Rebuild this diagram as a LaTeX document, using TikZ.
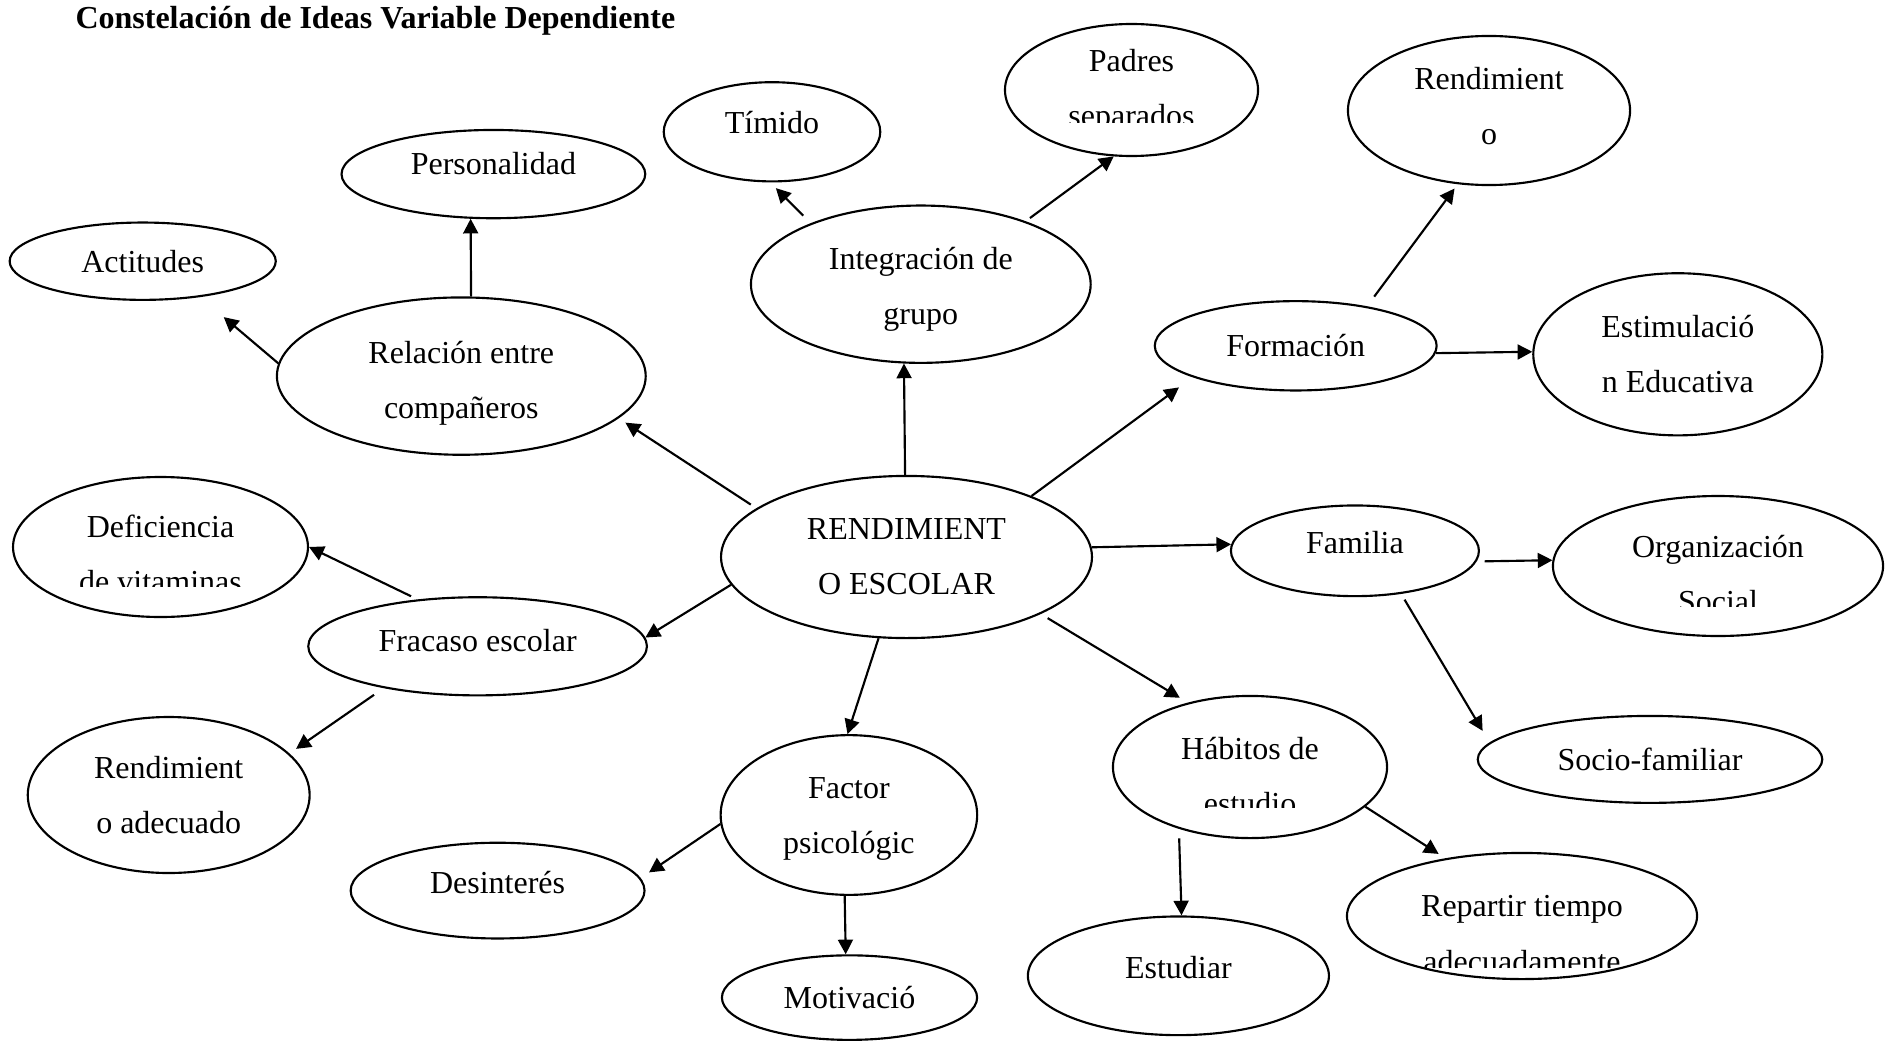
\documentclass[tikz,border=0pt]{standalone}
\usepackage{fontspec}
\setmainfont{Liberation Serif}
\usetikzlibrary{shapes.geometric,arrows.meta}

\begin{document}
\begin{tikzpicture}[x=0.375pt,y=-0.375pt,
    bub/.style={ellipse,draw,line width=0.8pt,inner sep=0pt,align=center,
      font=\fontsize{12pt}{20.7pt}\selectfont},
    txt/.style={inner sep=0pt,align=center,font=\fontsize{12pt}{20.7pt}\selectfont},
    arr/.style={-{Triangle[length=5.5pt,width=5.6pt]},line width=0.8pt}]
\useasboundingbox (0,0) rectangle (1896,1056);

\node[anchor=west,inner sep=0pt,font=\bfseries\fontsize{12pt}{14pt}\selectfont] (titulo) at (75,21) {Constelación de Ideas Variable Dependiente};

\node[bub,minimum width=139.1pt,minimum height=60.8pt] (ren) at (906.5,557) {RENDIMIENT\\O ESCOLAR};
\node[bub,minimum width=99.8pt,minimum height=29pt] (act) at (142.7,261.2) {Actitudes};
\node[bub,minimum width=113.9pt,minimum height=33.1pt,text depth=8pt] (pers) at (493.4,174.1) {Personalidad};
\node[bub,minimum width=81.2pt,minimum height=37.2pt,text depth=7.3pt] (tim) at (772,131.8) {Tímido};
\node[bub,minimum width=94.9pt,minimum height=49.5pt] (pad) at (1131.5,90) {};
\node[bub,minimum width=105.8pt,minimum height=55.9pt,text depth=3.5pt] (rend) at (1489,110.5) {Rendimient\\o};
\node[bub,minimum width=127.4pt,minimum height=59pt,text height=32.7pt] (integ) at (920.8,284.2) {Integración de\\grupo};
\node[bub,minimum width=138.3pt,minimum height=59pt,text height=34.5pt] (rel) at (461.3,376.1) {Relación entre\\compañeros};
\node[bub,minimum width=105.7pt,minimum height=33.5pt] (form) at (1295.7,345.8) {Formación};
\node[bub,minimum width=108.4pt,minimum height=60.8pt] (estim) at (1677.8,354.3) {Estimulació\\n Educativa};
\node[bub,minimum width=110.6pt,minimum height=52.5pt] (defic) at (160.5,547) {};
\node[bub,minimum width=93pt,minimum height=34pt,text depth=6.4pt] (fam) at (1354.9,550.8) {Familia};
\node[bub,minimum width=123.8pt,minimum height=52.5pt] (org) at (1718,566) {};
\node[bub,minimum width=127pt,minimum height=36.8pt,text depth=4.5pt] (fra) at (477.6,646.3) {Fracaso escolar};
\node[bub,minimum width=105.7pt,minimum height=58.5pt] (radec) at (168.7,795) {Rendimient\\o adecuado};
\node[bub,minimum width=129.2pt,minimum height=32.6pt] (socio) at (1650,759.4) {Socio-familiar};
\node[bub,minimum width=102.8pt,minimum height=53.3pt] (hab) at (1250,767) {};
\node[bub,minimum width=96.2pt,minimum height=59.9pt,text height=31.7pt] (fact) at (848.9,815) {Factor\\psicológic};
\node[bub,minimum width=110.2pt,minimum height=35.9pt,text depth=6.4pt] (desi) at (497.6,890.6) {Desinterés};
\node[bub,minimum width=131.3pt,minimum height=47.3pt] (rep) at (1522,916) {};
\node[bub,minimum width=112.9pt,minimum height=44.5pt,text depth=6.4pt] (estu) at (1178.4,975.8) {Estudiar};
\node[bub,minimum width=95.7pt,minimum height=31.7pt] (moti) at (849.5,997.6) {Motivació};

\begin{scope}
\clip (990,20) rectangle (1270,123);
\node[txt,yshift=-0.4pt] (pad-t) at (pad) {Padres\\separados};
\end{scope}
\begin{scope}
\clip (0,470) rectangle (330,586);
\node[txt,yshift=-2.6pt] (defic-t) at (defic) {Deficiencia\\de vitaminas};
\end{scope}
\begin{scope}
\clip (1540,490) rectangle (1890,606);
\node[txt,yshift=-3pt] (org-t) at (org) {Organización\\Social};
\end{scope}
\begin{scope}
\clip (1100,690) rectangle (1400,807);
\node[txt,yshift=-3.4pt] (hab-t) at (hab) {Hábitos de\\estudio};
\end{scope}
\begin{scope}
\clip (1340,850) rectangle (1700,967);
\node[txt,yshift=-6.8pt] (rep-t) at (rep) {Repartir tiempo\\adecuadamente};
\end{scope}

\draw[arr] (rel.83) -- (pers.243);
\draw[arr,shorten >=11.6pt] (rel.176.6) -- (act.328.3);
\draw[arr,shorten <=4pt,shorten >=3pt] (integ.151.3) -- (tim.268.3);
\draw[arr,shorten <=2pt] (integ.31.4) -- (pad.255.6);
\draw[arr] (ren.91.4) -- (integ.258.3);
\draw[arr,shorten <=2.5pt,shorten >=3pt] (ren.162.1) -- (rel.345.1);
\draw[arr,shorten >=6.4pt] (ren.26.8) -- (form.197.3);
\draw[arr,shorten <=4.5pt,shorten >=2pt] (form.29.2) -- (rend.247);
\draw[arr] (form.357) -- (estim.179.5);
\draw[arr] (ren.3.6) -- (fam.177.5);
\draw[arr,shorten <=3pt] (fam.355.4) -- (org.178.3);
\draw[arr,shorten <=2.5pt,shorten >=5.1pt] (fam.317.9) -- (socio.174.8);
\draw[arr,shorten <=3pt,shorten >=3.5pt] (ren.337) -- (hab.134.2);
\draw[arr] (ren.189.7) -- (fra.3.8);
\draw[arr] (ren.251.7) -- (fact.91.8);
\draw[arr,shorten <=2.7pt] (fra.142.4) -- (defic.0.65);
\draw[arr,shorten <=4.4pt,shorten >=3pt] (fra.204.1) -- (radec.19.7);
\draw[arr,shorten >=3.8pt] (fact.184.4) -- (desi.5.2);
\draw[arr] (fact.267.3) -- (moti.95.5);
\draw[arr,shorten <=3.6pt] (hab.221.9) -- (estu.87.1);
\draw[arr,shorten >=3pt] (hab.341.6) -- (rep.143);
\end{tikzpicture}
\end{document}
